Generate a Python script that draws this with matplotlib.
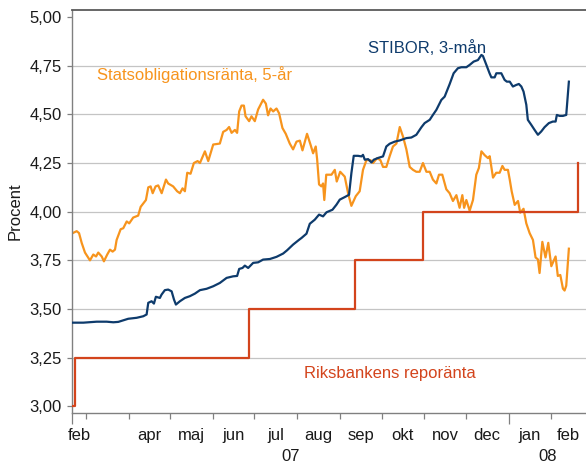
import matplotlib
matplotlib.use('Agg')
import matplotlib.pyplot as plt
import matplotlib.ticker as mticker
import numpy as np
import pandas as pd

plt.rcParams['font.family'] = ['Liberation Sans', 'DejaVu Sans']

# first day shown on the axis and last day of the axis
start = pd.Timestamp('2007-02-19')
end = pd.Timestamp('2008-02-26')

# 5-year government bond yield, days after 19 Feb 2007
bond_days = [0.5, 3.4, 5.1, 7.0, 9.4, 13.0, 15.4, 17.4, 19.0, 21.5,
             23.1, 25.5, 27.5, 29.4, 31.1, 32.3, 35.2, 37.1, 39.6, 41.4,
             44.3, 47.9, 49.7, 53.5, 55.2, 56.9, 58.4, 60.5, 62.4, 64.9,
             68.0, 69.6, 73.2, 76.1, 78.1, 80.0, 81.7, 83.4, 85.8, 88.2,
             90.9, 92.6, 96.2, 98.6, 102.2, 107.0, 109.4, 111.9, 113.7, 115.5,
             117.9, 119.5, 121.0, 122.7, 124.4, 125.6, 128.2, 129.9, 132.3, 134.7,
             138.3, 140.3, 141.9, 143.7, 145.6, 148.0, 149.9, 152.3, 154.7, 157.6,
             160.0, 162.5, 164.9, 166.8, 170.1, 172.6, 174.5, 176.4, 177.4, 178.8,
             180.5, 181.7, 182.6, 184.0, 187.8, 190.2, 191.6, 194.1, 197.4, 199.8,
             202.2, 205.4, 208.2, 210.6, 213.1, 216.0, 217.9, 220.8, 223.2, 225.1,
             227.5, 229.9, 232.3, 234.8, 237.2, 239.6, 242.0, 244.4, 246.8, 249.2,
             251.6, 254.0, 256.5, 258.9, 261.2, 263.7, 265.6, 268.0, 270.9, 273.3,
             275.7, 278.2, 280.5, 282.5, 283.8, 285.4, 287.8, 290.2, 292.6, 294.5,
             296.3, 298.7, 301.1, 302.3, 304.7, 307.0, 309.5, 311.5, 313.1, 315.5,
             316.8, 318.2, 320.4, 322.8, 324.4, 326.8, 328.8, 331.2, 333.6, 335.5,
             337.2, 338.4, 340.4, 342.7, 344.7, 346.9, 350.0, 351.6, 353.4, 355.3,
             356.5, 357.7, 359.6]
bond_rate = [3.89, 3.90, 3.89, 3.84, 3.79, 3.75, 3.78, 3.77, 3.79, 3.77,
             3.745, 3.78, 3.805, 3.795, 3.805, 3.855, 3.91, 3.915, 3.95, 3.94,
             3.97, 3.98, 4.025, 4.06, 4.125, 4.13, 4.095, 4.13, 4.135, 4.095,
             4.165, 4.145, 4.13, 4.105, 4.095, 4.12, 4.105, 4.20, 4.195, 4.25,
             4.26, 4.25, 4.31, 4.26, 4.345, 4.35, 4.41, 4.42, 4.435, 4.405,
             4.42, 4.405, 4.515, 4.545, 4.545, 4.49, 4.465, 4.49, 4.465, 4.525,
             4.575, 4.555, 4.495, 4.53, 4.515, 4.53, 4.505, 4.43, 4.40, 4.35,
             4.32, 4.36, 4.365, 4.315, 4.40, 4.345, 4.30, 4.335, 4.27, 4.14,
             4.13, 4.145, 4.06, 4.19, 4.19, 4.215, 4.155, 4.205, 4.18, 4.095,
             4.03, 4.08, 4.105, 4.215, 4.265, 4.265, 4.25, 4.275, 4.265, 4.23,
             4.23, 4.285, 4.335, 4.35, 4.435, 4.385, 4.32, 4.23, 4.215, 4.205,
             4.205, 4.25, 4.205, 4.205, 4.165, 4.145, 4.19, 4.19, 4.115, 4.095,
             4.055, 4.085, 4.02, 4.085, 4.02, 4.06, 4.005, 4.06, 4.19, 4.225,
             4.31, 4.29, 4.275, 4.285, 4.175, 4.20, 4.20, 4.235, 4.215, 4.215,
             4.165, 4.105, 4.035, 4.055, 3.995, 4.015, 3.94, 3.89, 3.855, 3.765,
             3.755, 3.685, 3.845, 3.765, 3.84, 3.72, 3.77, 3.67, 3.675, 3.605,
             3.595, 3.62, 3.81]

# STIBOR 3 months, days after 19 Feb 2007
stibor_days = [0, 8.2, 17.9, 25.1, 29.9, 33.5, 40.7, 46.8, 51.6, 54.0,
               55.2, 57.6, 59.3, 60.7, 63.6, 64.8, 67.2, 69.6, 72.1, 73.8,
               75.2, 78.1, 81.7, 85.3, 88.9, 92.6, 97.4, 102.2, 107.0, 111.9,
               116.6, 119.5, 121.0, 123.4, 125.1, 127.5, 131.1, 134.7, 138.3, 143.2,
               148.0, 152.8, 155.7, 160.0, 164.4, 166.1, 169.7, 172.1, 175.7, 178.8,
               181.7, 184.2, 188.5, 191.4, 193.8, 197.4, 200.5, 202.2, 203.9, 207.0,
               209.5, 210.6, 211.9, 214.3, 216.7, 218.4, 221.5, 225.1, 227.5, 229.9,
               233.6, 237.2, 242.0, 245.6, 249.2, 252.9, 255.2, 258.9, 261.2, 263.7,
               267.3, 269.7, 273.3, 276.2, 279.3, 281.8, 285.4, 287.8, 290.7, 293.8,
               296.3, 297.4, 299.9, 302.2, 303.5, 305.9, 307.1, 310.7, 313.1, 314.7,
               316.8, 319.1, 321.5, 323.4, 325.2, 326.8, 328.8, 329.9, 332.4, 334.8,
               337.2, 339.6, 342.0, 345.1, 348.0, 350.0, 350.9, 352.9, 355.3, 357.7,
               359.6]
stibor_rate = [3.43, 3.43, 3.435, 3.435, 3.432, 3.434, 3.45, 3.455, 3.463, 3.472,
               3.532, 3.54, 3.528, 3.563, 3.557, 3.574, 3.597, 3.60, 3.591, 3.549,
               3.523, 3.54, 3.557, 3.566, 3.579, 3.597, 3.604, 3.617, 3.634, 3.66,
               3.668, 3.670, 3.706, 3.711, 3.723, 3.711, 3.737, 3.74, 3.754, 3.757,
               3.768, 3.785, 3.802, 3.831, 3.856, 3.865, 3.887, 3.938, 3.959, 3.985,
               3.976, 3.997, 4.01, 4.036, 4.062, 4.075, 4.087, 4.198, 4.287, 4.287,
               4.284, 4.292, 4.267, 4.27, 4.253, 4.267, 4.276, 4.284, 4.335, 4.349,
               4.36, 4.366, 4.378, 4.381, 4.395, 4.434, 4.455, 4.472, 4.497, 4.523,
               4.574, 4.591, 4.655, 4.711, 4.737, 4.742, 4.742, 4.754, 4.771, 4.779,
               4.805, 4.80, 4.754, 4.711, 4.69, 4.69, 4.711, 4.711, 4.677, 4.668,
               4.668, 4.643, 4.651, 4.656, 4.643, 4.617, 4.549, 4.472, 4.446, 4.42,
               4.395, 4.412, 4.434, 4.455, 4.463, 4.463, 4.497, 4.492, 4.492, 4.497,
               4.668]

# Riksbank repo rate, dates of change
repo_dates = ['2007-02-19', '2007-02-21', '2007-06-27', '2007-09-12', '2007-10-31', '2008-02-20']
repo_rate = [3.00, 3.25, 3.50, 3.75, 4.00, 4.25]

month_labels = ['feb', '', 'apr', 'maj', 'jun', 'jul', 'aug', 'sep', 'okt', 'nov', 'dec', 'jan', 'feb']
year_labels = ['07', '08']
y_ticks = [3.00, 3.25, 3.50, 3.75, 4.00, 4.25, 4.50, 4.75, 5.00]

orange = '#F7941D'
navy = '#0E3B6C'
red = '#D3441C'
fs = 12

bond_x = start + pd.to_timedelta(bond_days, unit='D')
stibor_x = start + pd.to_timedelta(stibor_days, unit='D')
repo_x = pd.to_datetime(repo_dates)

fig = plt.figure(figsize=(5.86, 4.63), dpi=100)
ax = fig.add_axes([72 / 586, 50 / 463, 514 / 586, 403 / 463])

for v in y_ticks[1:-1]:
    ax.axhline(v, color='#C4C4C4', lw=0.9, zorder=0)

ax.plot(bond_x, bond_rate, color=orange, lw=1.6, zorder=2)
ax.plot(stibor_x, stibor_rate, color=navy, lw=1.6, zorder=3)
ax.plot(repo_x, repo_rate, color=red, lw=1.6, drawstyle='steps-post', zorder=4)

ax.set_xlim(start, end)
ax.set_ylim(2.966, 5.036)

# y axis
ax.set_yticks(y_ticks)
ax.yaxis.set_major_formatter(mticker.FuncFormatter(lambda v, p: f'{v:.2f}'.replace('.', ',')))
ax.tick_params(axis='y', length=3.5, width=0.9, color='#808080', pad=4, labelsize=fs, labelcolor='#1a1a1a')

# x axis: long ticks at year groups, short at month starts
month_starts = pd.date_range('2007-03-01', '2008-02-01', freq='MS')
year_start = pd.Timestamp('2008-01-01')
ax.set_xticks([start, year_start])
ax.set_xticks([d for d in month_starts if d != year_start], minor=True)
ax.tick_params(axis='x', which='major', length=8, width=0.9, color='#808080', labelbottom=False)
ax.tick_params(axis='x', which='minor', length=4.2, width=0.9, color='#808080', labelbottom=False)

bounds = [start] + list(month_starts) + [end]
for i, lab in enumerate(month_labels):
    mid = bounds[i] + (bounds[i + 1] - bounds[i]) / 2
    ax.text(mid, -0.057, lab, transform=ax.get_xaxis_transform(), ha='center', va='center',
            fontsize=fs, color='#1a1a1a')

year_bounds = [start, year_start, end]
for i, lab in enumerate(year_labels):
    mid = year_bounds[i] + (year_bounds[i + 1] - year_bounds[i]) / 2
    ax.text(mid, -0.107, lab, transform=ax.get_xaxis_transform(), ha='center', va='center',
            fontsize=fs, color='#1a1a1a')

for side in ['left', 'bottom']:
    ax.spines[side].set_color('#808080')
    ax.spines[side].set_linewidth(1.0)
ax.spines['top'].set_color('#5a5a5a')
ax.spines['top'].set_linewidth(1.3)
ax.spines['right'].set_visible(False)

ax.text(0.239, 0.839, 'Statsobligationsränta, 5-år', transform=ax.transAxes, color=orange,
        fontsize=fs, ha='center', va='center')
ax.text(0.691, 0.906, 'STIBOR, 3-mån', transform=ax.transAxes, color=navy,
        fontsize=fs, ha='center', va='center')
ax.text(0.619, 0.099, 'Riksbankens reporänta', transform=ax.transAxes, color=red,
        fontsize=fs, ha='center', va='center')

fig.text(15 / 586, 0.543, 'Procent', rotation=90, ha='center', va='center', fontsize=fs, color='#1a1a1a')

fig.savefig('out.png', dpi=100)
